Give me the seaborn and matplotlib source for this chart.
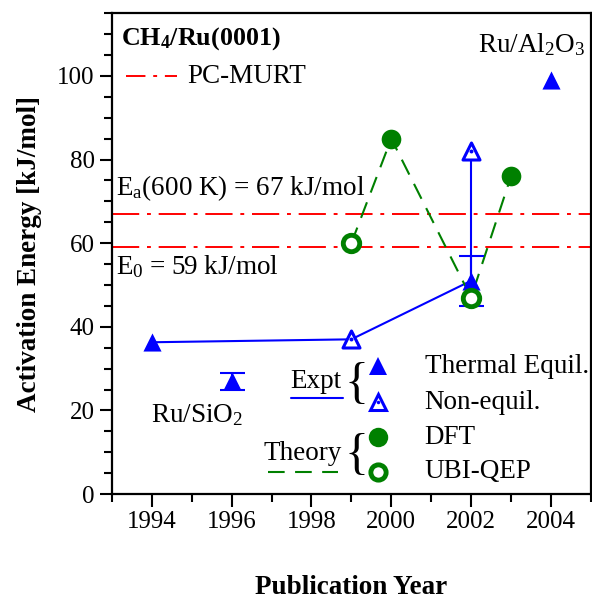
import matplotlib
matplotlib.use("Agg")
import matplotlib.pyplot as plt
import seaborn as sns
import pandas as pd
from matplotlib.lines import Line2D
from matplotlib.ticker import MultipleLocator

sns.set_theme(style="ticks")
plt.rcParams['font.family'] = ['Liberation Serif', 'DejaVu Serif']
plt.rcParams['mathtext.fontset'] = 'custom'
plt.rcParams['mathtext.rm'] = 'Liberation Serif'
plt.rcParams['mathtext.it'] = 'Liberation Serif:italic'
plt.rcParams['mathtext.bf'] = 'Liberation Serif:bold'
plt.rcParams['text.color'] = 'black'
plt.rcParams['axes.labelcolor'] = 'black'
plt.rcParams['xtick.color'] = 'black'
plt.rcParams['ytick.color'] = 'black'

# ---- data ----
expt_line_years = [1994, 1999, 2002]
expt_line_vals = [36.3, 37.0, 51.0]

thermal_years = [1994, 1996, 2002, 2004]
thermal_vals = [36.3, 27.0, 51.0, 99.0]

err_years = [1996, 2002]
err_vals = [27.0, 51.0]
err_size = [2.0, 6.0]

nonequil_years = [1999, 2002]
nonequil_vals = [37.0, 82.0]

theory_years = [1999, 2000, 2002, 2003]
theory_vals = [60.0, 85.0, 47.0, 76.0]

dft_years = [2000, 2003]
dft_vals = [85.0, 76.0]

ubi_years = [1999, 2002]
ubi_vals = [60.0, 47.0]

pcmurt_levels = [67.0, 59.0]

xticks = [1994, 1996, 1998, 2000, 2002, 2004]
yticks = [0, 20, 40, 60, 80, 100]

BLUE = "#0000ff"
GREEN = "#008000"
RED = "#ff0000"
DASHDOT = (0, (14, 4, 2, 4))
FS = 19.5

fig, ax = plt.subplots(figsize=(5.92, 6.01), dpi=100)
fig.subplots_adjust(left=0.189, right=0.998, bottom=0.178, top=0.978)

# PC-MURT lines
for lv in pcmurt_levels:
    ax.axhline(lv, color=RED, lw=1.4, ls=DASHDOT, zorder=1)

# Expt connecting line
sns.lineplot(x=expt_line_years, y=expt_line_vals, sort=False, color=BLUE, lw=1.5, ax=ax, zorder=2)
# Theory connecting line
sns.lineplot(x=theory_years, y=theory_vals, sort=False, color=GREEN, lw=1.5, ax=ax, zorder=2)
ax.lines[-1].set_dashes((8, 5))

# error bars
ax.errorbar(err_years, err_vals, yerr=err_size, fmt='none', ecolor=BLUE,
            elinewidth=1.5, capsize=9, capthick=1.5, zorder=3)
# vertical connector 2002 non-equil
ax.plot([nonequil_years[1], nonequil_years[1]], [err_vals[1], nonequil_vals[1]],
        color=BLUE, lw=1.5, zorder=3)

# markers
sns.scatterplot(x=thermal_years, y=thermal_vals, marker='^', s=170, color=BLUE,
                edgecolor=BLUE, linewidth=0, ax=ax, zorder=5)
sns.scatterplot(x=nonequil_years, y=nonequil_vals, marker='^', s=150, color='white',
                edgecolor=BLUE, linewidth=2.2, ax=ax, zorder=5)
sns.scatterplot(x=nonequil_years, y=nonequil_vals, marker='o', s=8, color=BLUE,
                edgecolor=BLUE, linewidth=0, ax=ax, zorder=6)
sns.scatterplot(x=dft_years, y=dft_vals, marker='o', s=200, color=GREEN,
                edgecolor=GREEN, linewidth=0, ax=ax, zorder=5)
sns.scatterplot(x=ubi_years, y=ubi_vals, marker='o', s=140, color='white',
                edgecolor=GREEN, linewidth=3.5, ax=ax, zorder=5)

ax.set_xlim(1993, 2005)
ax.set_ylim(0, 115)
ax.set_xticks(xticks)
ax.set_yticks(yticks)
ax.xaxis.set_minor_locator(MultipleLocator(1))
ax.yaxis.set_minor_locator(MultipleLocator(5))
ax.tick_params(axis='both', which='major', direction='out', length=9, width=1.5,
               labelsize=18, color='black', labelcolor='black', top=False, right=False)
ax.tick_params(axis='both', which='minor', direction='out', length=6, width=1.5,
               top=False, right=False)
for s in ax.spines.values():
    s.set_linewidth(1.6)
    s.set_color('black')

ax.set_xlabel("Publication Year", fontsize=FS, fontweight='bold', labelpad=30, color='black')
ax.set_ylabel("Activation Energy [kJ/mol]", fontsize=FS, fontweight='bold', labelpad=11, color='black')

# annotations
ax.text(0.02, 0.948, r"CH$_\mathbf{4}$/Ru(0001)", transform=ax.transAxes, fontsize=18.7,
        fontweight='bold', va='center', ha='left')
ax.add_line(Line2D([0.03, 0.135], [0.869, 0.869], transform=ax.transAxes, color=RED,
                   lw=1.4, ls=(0, (10, 4, 2, 4))))
ax.text(0.157, 0.869, "PC-MURT", transform=ax.transAxes, fontsize=FS, va='center', ha='left')
ax.text(0.877, 0.935, r"Ru/Al$_2$O$_3$", transform=ax.transAxes, fontsize=FS, va='center', ha='center')
ax.text(0.178, 0.165, r"Ru/SiO$_2$", transform=ax.transAxes, fontsize=FS, va='center', ha='center')
ax.text(0.008, 0.637, r"E$_\mathrm{a}$(600 K) = 67 kJ/mol", transform=ax.transAxes, fontsize=FS,
        va='center', ha='left')
ax.text(0.008, 0.472, r"E$_0$ = 59 kJ/mol", transform=ax.transAxes, fontsize=FS,
        va='center', ha='left')

# custom legend
ax.text(0.48, 0.233, "Expt", transform=ax.transAxes, fontsize=FS, va='center', ha='right')
ax.add_line(Line2D([0.373, 0.482], [0.2, 0.2], transform=ax.transAxes, color=BLUE, lw=1.5))
ax.text(0.48, 0.085, "Theory", transform=ax.transAxes, fontsize=FS, va='center', ha='right')
ax.add_line(Line2D([0.327, 0.472], [0.046, 0.046], transform=ax.transAxes, color=GREEN, lw=1.5,
                   dashes=(8, 5)))
ax.text(0.486, 0.228, "{", transform=ax.transAxes, fontsize=36, va='center', ha='left')
ax.text(0.486, 0.08, "{", transform=ax.transAxes, fontsize=36, va='center', ha='left')

lx = 0.555
ax.plot([lx], [0.266], transform=ax.transAxes, marker='^', ms=13, color=BLUE, mew=0, ls='none')
ax.plot([lx], [0.191], transform=ax.transAxes, marker='^', ms=11.5, mfc='white', mec=BLUE, mew=2.2, ls='none')
ax.plot([lx], [0.191], transform=ax.transAxes, marker='o', ms=2.5, color=BLUE, mew=0, ls='none')
ax.plot([lx], [0.1185], transform=ax.transAxes, marker='o', ms=14, color=GREEN, mew=0, ls='none')
ax.plot([lx], [0.046], transform=ax.transAxes, marker='o', ms=11, mfc='white', mec=GREEN, mew=3.5, ls='none')
tx = 0.653
ax.text(tx, 0.266, "Thermal Equil.", transform=ax.transAxes, fontsize=FS, va='center', ha='left')
ax.text(tx, 0.191, "Non-equil.", transform=ax.transAxes, fontsize=FS, va='center', ha='left')
ax.text(tx, 0.1185, "DFT", transform=ax.transAxes, fontsize=FS, va='center', ha='left')
ax.text(tx, 0.046, "UBI-QEP", transform=ax.transAxes, fontsize=FS, va='center', ha='left')

if ax.get_legend():
    ax.get_legend().remove()

fig.savefig("out.png", dpi=100)
